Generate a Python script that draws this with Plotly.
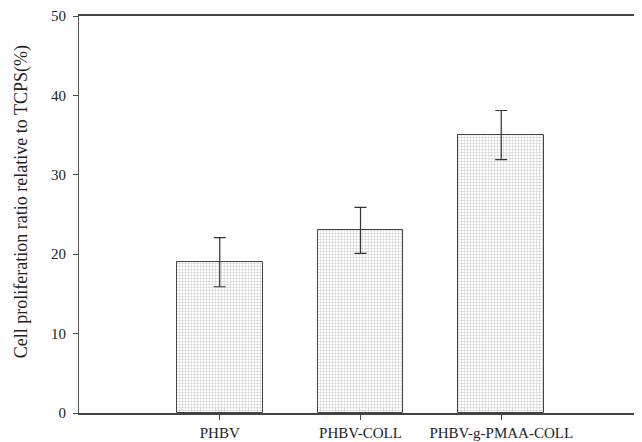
import plotly.graph_objects as go

categories = ["PHBV", "PHBV-COLL", "PHBV-g-PMAA-COLL"]
values = [19.0, 23.0, 35.0]
errors = [3.1, 2.9, 3.1]
y_ticks = [0, 10, 20, 30, 40, 50]
y_title = "Cell proliferation ratio relative to TCPS(%)"

fig = go.Figure()
fig.add_trace(go.Bar(
    x=list(range(len(categories))),
    y=values,
    width=0.61,
    marker=dict(
        color="white",
        line=dict(color="#444444", width=1),
        pattern=dict(shape="+", fgcolor="#909090", bgcolor="white", size=3, solidity=0.3),
    ),
    error_y=dict(type="data", array=errors, visible=True, color="#333333", thickness=1.2, width=6),
    showlegend=False,
))

font = dict(family="Liberation Serif, Times New Roman, serif", size=15, color="#222222")
title_font = dict(family="Liberation Serif, Times New Roman, serif", size=18, color="#222222")

# the page body has an 8px margin, so the figure is shrunk and offset accordingly
fig.update_layout(
    width=634, height=434,
    margin=dict(l=71, r=0, t=8, b=29),
    paper_bgcolor="white", plot_bgcolor="white",
    font=font,
    bargap=0,
)
fig.update_xaxes(
    range=[-1, 3],
    tickmode="array", tickvals=list(range(len(categories))), ticktext=categories,
    ticks="outside", ticklen=5, tickcolor="#444444", tickwidth=1,
    showline=True, linecolor="#444444", linewidth=1.5, mirror=True,
    showgrid=False, zeroline=False,
    tickfont=font, automargin=False,
)
fig.update_yaxes(
    range=[0, 50],
    tickmode="array", tickvals=y_ticks,
    ticks="outside", ticklen=5, tickcolor="#444444", tickwidth=1,
    ticklabelstandoff=4,
    showline=True, linecolor="#555555", linewidth=1.2,
    showgrid=False, zeroline=False,
    tickfont=font, automargin=False,
)
fig.add_annotation(
    text=y_title, textangle=-90, font=title_font,
    xref="paper", yref="paper", x=-58 / 563, y=0.531,
    xanchor="center", yanchor="middle", showarrow=False,
)

fig.write_html("out.html")
